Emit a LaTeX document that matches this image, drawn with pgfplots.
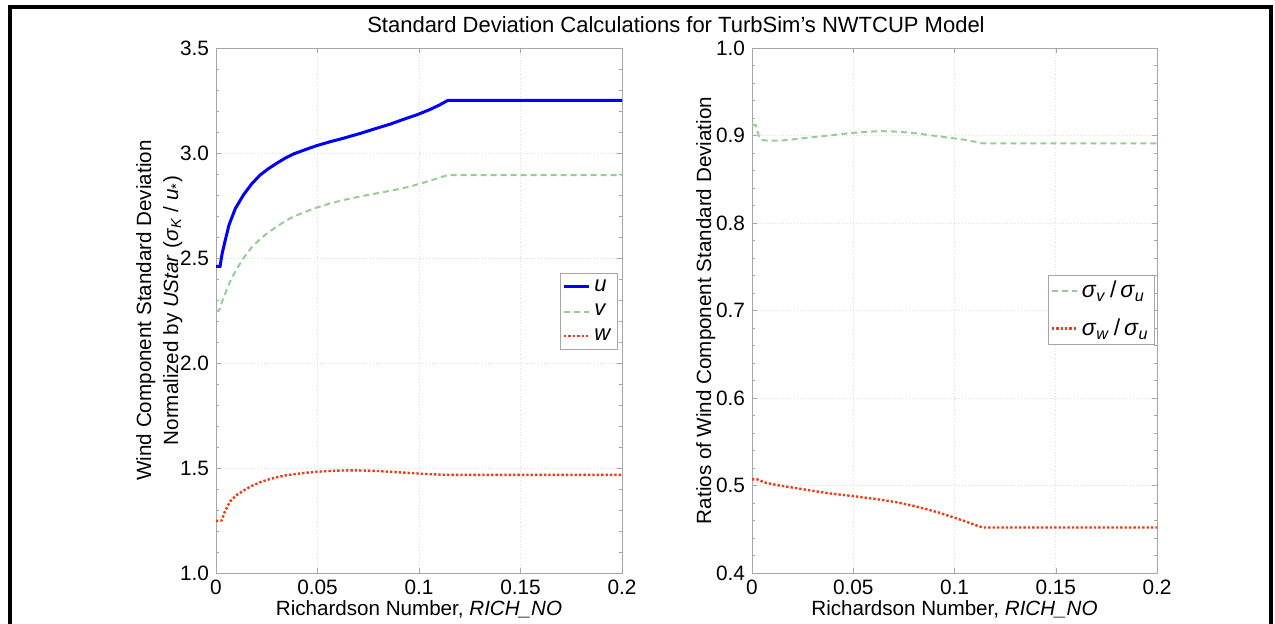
\documentclass[border=0pt]{standalone}
\usepackage{pgfplots}
\pgfplotsset{compat=1.18}
\usepackage{fontspec}
\setmainfont{Liberation Sans}

\definecolor{ublue}{RGB}{0,0,255}
\definecolor{vgreen}{RGB}{150,205,150}
\definecolor{wred}{RGB}{235,60,20}

\pgfplotsset{
  ttsax/.style={
    scale only axis,
    width=203pt, height=262.5pt,
    xmin=0, xmax=0.2,
    xtick={0,0.05,0.1,0.15,0.2},
    xticklabels={0,0.05,0.1,0.15,0.2},
    axis line style={gray!70},
    tick style={gray!70},
    major tick length=2.5pt,
    minor tick length=1.5pt,
    grid=major,
    major grid style={densely dotted, gray!25},
    tick label style={font=\fontsize{10.4}{12}\selectfont},
    label style={font=\fontsize{10.3}{13.5}\selectfont},
    xlabel={Richardson Number, \textit{RICH\_NO}},
    xlabel style={yshift=4pt},
    legend cell align=left,
    legend style={draw=gray!70, font=\fontsize{11}{12}\selectfont,
      inner sep=1pt, row sep=1pt},
    legend image code/.code={\draw[#1] (0pt,0pt) -- (12.5pt,0pt);},
  },
}

\begin{document}
\begin{tikzpicture}
\path[use as bounding box] (0,0) rectangle (637.5pt,312pt);
\draw[line width=2pt] (5.15pt,-5pt) -- (5.15pt,308.5pt) -- (635.25pt,308.5pt) -- (635.25pt,-5pt);
\node[font=\fontsize{11}{12}\selectfont] at (338pt,299.5pt) {Standard Deviation Calculations for TurbSim's NWTCUP Model};

\begin{axis}[ttsax,
  at={(108pt,25.5pt)}, anchor=south west,
  ymin=1, ymax=3.5,
  ytick={1,1.5,2,2.5,3,3.5},
  yticklabels={1.0,1.5,2.0,2.5,3.0,3.5},
  minor y tick num=4,
  ylabel={Wind Component Standard Deviation\\Normalized by \textit{UStar} (\textit{σ}\textsubscript{\textit{K}} / \textit{u}\textsubscript{*})},
  ylabel style={align=center, yshift=-8pt},
  legend style={at={(0.99,0.571)}, anchor=north east},
]
\addplot[ublue, line width=1.5pt] coordinates {
  (0,2.46) (0.002,2.46) (0.003,2.52) (0.0044,2.578) (0.0064,2.657)
  (0.0095,2.735) (0.0135,2.80) (0.0175,2.852) (0.0217,2.895) (0.0258,2.925)
  (0.0299,2.951) (0.034,2.975) (0.0381,2.995) (0.044,3.016) (0.0496,3.035)
  (0.056,3.053) (0.0627,3.07) (0.071,3.093) (0.0792,3.118) (0.086,3.138)
  (0.0923,3.16) (0.099,3.182) (0.1054,3.207) (0.110,3.228) (0.1141,3.25)
  (0.2,3.25)
};
\addplot[vgreen, densely dashed, line width=1pt] coordinates {
  (0,2.244) (0.0015,2.25) (0.0036,2.308) (0.0069,2.387) (0.010,2.445)
  (0.0135,2.498) (0.0175,2.55) (0.0217,2.59) (0.0258,2.622) (0.0299,2.649)
  (0.034,2.675) (0.0381,2.697) (0.044,2.72) (0.0496,2.74) (0.056,2.759)
  (0.0627,2.776) (0.071,2.793) (0.0792,2.808) (0.0875,2.823) (0.0956,2.84)
  (0.1054,2.868) (0.1141,2.895) (0.2,2.895)
};
\addplot[wred, densely dotted, line width=1.2pt] coordinates {
  (0,1.248) (0.0028,1.25) (0.0044,1.293) (0.0069,1.34) (0.010,1.37)
  (0.0135,1.392) (0.0175,1.414) (0.0217,1.432) (0.0258,1.445) (0.0299,1.456)
  (0.034,1.464) (0.0381,1.470) (0.044,1.477) (0.0496,1.482) (0.058,1.487)
  (0.066,1.489) (0.0725,1.488) (0.0792,1.486) (0.0875,1.481) (0.0956,1.476)
  (0.104,1.471) (0.1141,1.467) (0.2,1.467)
};
\legend{\textit{u},\textit{v},\textit{w}}
\end{axis}

\begin{axis}[ttsax,
  at={(376pt,25.5pt)}, anchor=south west,
  width=202.5pt,
  ymin=0.4, ymax=1,
  ytick={0.4,0.5,0.6,0.7,0.8,0.9,1},
  yticklabels={0.4,0.5,0.6,0.7,0.8,0.9,1.0},
  minor y tick num=4,
  ylabel={Ratios of Wind Component Standard Deviation},
  ylabel style={yshift=-6.5pt},
  legend style={at={(0.995,0.568)}, anchor=north east, row sep=5pt,
    font=\fontsize{11.5}{13}\selectfont},
]
\addplot[vgreen, densely dashed, line width=1pt] coordinates {
  (0,0.912) (0.0018,0.912) (0.0035,0.898) (0.005,0.895) (0.008,0.894)
  (0.0135,0.894) (0.0217,0.896) (0.0299,0.898) (0.0381,0.900) (0.0496,0.903)
  (0.056,0.904) (0.0627,0.905) (0.071,0.9045) (0.0792,0.903) (0.0923,0.899)
  (0.1054,0.895) (0.1141,0.891) (0.2,0.891)
};
\addplot[wred, densely dotted, line width=1.2pt] coordinates {
  (0,0.507) (0.0025,0.507) (0.0069,0.503) (0.0135,0.500) (0.0217,0.497)
  (0.0299,0.494) (0.0381,0.491) (0.0496,0.488) (0.0627,0.484) (0.071,0.481)
  (0.0792,0.477) (0.086,0.473) (0.0923,0.469) (0.099,0.464) (0.1054,0.459)
  (0.110,0.455) (0.1141,0.452) (0.2,0.452)
};
\legend{\textit{σ}\textsubscript{\textit{v}}\,/\,\textit{σ}\textsubscript{\textit{u}},
        \textit{σ}\textsubscript{\textit{w}}\,/\,\textit{σ}\textsubscript{\textit{u}}}
\end{axis}
\end{tikzpicture}
\end{document}
